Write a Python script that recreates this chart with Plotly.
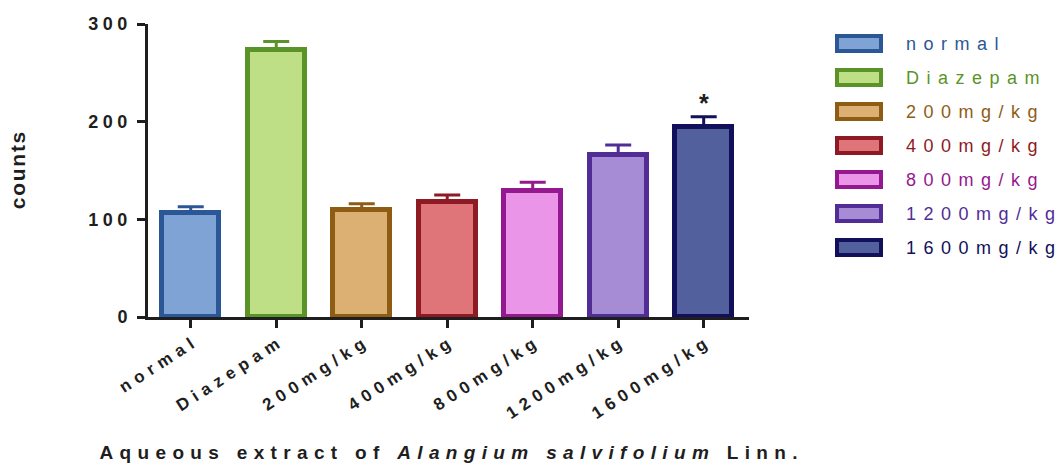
import plotly.graph_objects as go

# Locomotor counts per treatment group (mean and SEM)
groups = ["normal", "Diazepam", "200mg/kg", "400mg/kg", "800mg/kg", "1200mg/kg", "1600mg/kg"]
counts = [106, 273, 110, 118, 129, 166, 195]
sem = [7, 9, 6, 7, 9, 10, 10]
significant = [False, False, False, False, False, False, True]

fill_colors = ["#7FA3D5", "#BFDF87", "#DCAF72", "#E07579", "#EA95E8", "#A68CD4", "#52619D"]
edge_colors = ["#2B5797", "#5A9428", "#8F5C14", "#8E1A24", "#94188F", "#522D96", "#120F5B"]

y_ticks = [0, 100, 200, 300]

W, H = 1061, 463
ML, MR, MT, MB = 148, 312, 24, 146
PW, PH = W - ML - MR, H - MT - MB

FONT = "Liberation Sans, Arial, Helvetica, sans-serif"
AXIS = "#1e1e1e"


def tracked(s, gap="\u2004"):
    """Widen letter spacing by placing a narrow space between characters."""
    return gap.join(s)


def px_x(px):
    return (px - ML) / PW


def px_y(py):
    return (H - MB - py) / PH


fig = go.Figure()

for g, v, e, fc, ec in zip(groups, counts, sem, fill_colors, edge_colors):
    fig.add_trace(go.Bar(
        x=[g], y=[v], width=0.665,
        marker=dict(color=fc, line=dict(color=ec, width=5)),
        error_y=dict(type="data", symmetric=False, array=[e], arrayminus=[0],
                     color=ec, thickness=3, width=13),
        showlegend=False, name=g,
    ))

# significance marks
for g, v, e, s in zip(groups, counts, sem, significant):
    if s:
        fig.add_annotation(x=g, y=v + e, text="<b>*</b>", showarrow=False,
                           yanchor="middle", yshift=14,
                           font=dict(family=FONT, size=25, color="#1e1e1e"))

# legend drawn as outlined swatches with coloured labels
shapes = []
for i, (g, fc, ec) in enumerate(zip(groups, fill_colors, edge_colors)):
    cy = 43.5 + 34 * i
    shapes.append(dict(type="rect", xref="paper", yref="paper",
                       x0=px_x(837), x1=px_x(881), y0=px_y(cy + 7.5), y1=px_y(cy - 7.5),
                       fillcolor=fc, line=dict(color=ec, width=4), layer="above"))
    fig.add_annotation(xref="paper", yref="paper", x=px_x(904), y=px_y(cy),
                       xanchor="left", yanchor="middle", showarrow=False,
                       text=tracked(g, "\u2005\u2006"),
                       font=dict(family=FONT, size=18, color=ec))

WS = "\u2004 \u2004"
title_text = (tracked("Aqueous") + WS + tracked("extract") + WS + tracked("of") + WS +
              "<i>" + tracked("Alangium") + WS + tracked("salvifolium") + "</i>" + WS +
              tracked("Linn."))

fig.update_layout(
    width=W, height=H,
    margin=dict(l=ML, r=MR, t=MT, b=MB, autoexpand=False),
    paper_bgcolor="white", plot_bgcolor="white",
    barmode="overlay", bargap=0,
    shapes=shapes,
    font=dict(family=FONT, color="#1e1e1e"),
    xaxis=dict(
        type="category", range=[-0.5, 6.53],
        tickvals=groups, ticktext=[tracked(g, "\u2004") for g in groups],
        tickangle=-33, tickfont=dict(family=FONT, size=17, weight="bold", color="#1e1e1e"),
        ticks="outside", ticklen=8, tickwidth=3, tickcolor=AXIS,
        showline=True, linecolor=AXIS, linewidth=3, showgrid=False, zeroline=False,
        title=dict(text=title_text, standoff=24,
                   font=dict(family=FONT, size=19, weight="bold", color="#1e1e1e")),
        automargin=False,
    ),
    yaxis=dict(
        range=[0, 300], tickvals=y_ticks, ticktext=[tracked(str(t), "\u2005") for t in y_ticks],
        tickfont=dict(family=FONT, size=18, weight="bold", color="#1e1e1e"),
        ticks="outside", ticklen=8, tickwidth=3, tickcolor=AXIS, ticklabelstandoff=6,
        showline=True, linecolor=AXIS, linewidth=3, showgrid=False, zeroline=False,
        title=dict(text=tracked("counts", "\u200a"), standoff=58,
                   font=dict(family=FONT, size=21, weight="bold", color="#1e1e1e")),
        automargin=False,
    ),
)

fig.write_html("out.html")
